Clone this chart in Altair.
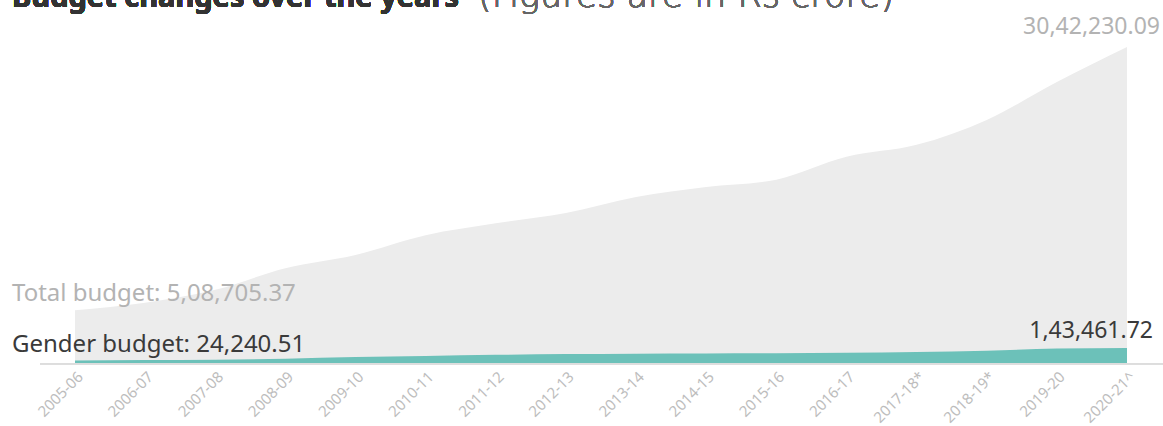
import altair as alt
import pandas as pd

years = ["2005-06", "2006-07", "2007-08", "2008-09", "2009-10", "2010-11", "2011-12",
         "2012-13", "2013-14", "2014-15", "2015-16", "2016-17", "2017-18*", "2018-19*",
         "2019-20", "2020-21^"]
total_budget = [508705.37, 581000, 705000, 912000, 1040000, 1230000, 1345000, 1445000,
                1598000, 1694000, 1765000, 1985000, 2100000, 2340000, 2705000, 3042230.09]
gender_budget = [24240.51, 28700, 31200, 42000, 56900, 67800, 78300, 86000,
                 90000, 92000, 94000, 98000, 106000, 118000, 139000, 143461.72]
start_labels = ["Total budget: 5,08,705.37", "Gender budget: 24,240.51"]
end_labels = ["30,42,230.09", "1,43,461.72"]
title_bold = "Budget changes over the years"
title_light = "(Figures are in Rs crore)"

df = pd.DataFrame({"year": years, "total": total_budget, "gender": gender_budget})

FONT = "Noto Sans"
xenc = alt.X("year:N", sort=years, scale=alt.Scale(type="point", padding=0),
             axis=alt.Axis(title=None, labelAngle=-45, labelColor="#bdbdbd", labelFontSize=15,
                           labelFont=FONT, ticks=False, domain=False, grid=False,
                           labelPadding=6))
yscale = alt.Scale(domain=[0, 3042230.09], nice=False, zero=True)

base = alt.Chart(df)

total_area = base.mark_area(color="#ececec", interpolate="monotone").encode(
    x=xenc, y=alt.Y("total:Q", scale=yscale, axis=None))
gender_area = base.mark_area(color="#6cc1b9", interpolate="monotone").encode(
    x=xenc, y=alt.Y("gender:Q", scale=yscale, axis=None))

baseline = alt.Chart(df).mark_rule(color="#dddddd", strokeWidth=1).encode(
    x=alt.value(-35), x2=alt.value(1088), y=alt.value(317))

first = base.transform_filter(alt.datum.year == years[0])
last = base.transform_filter(alt.datum.year == years[-1])

t_start_total = first.mark_text(align="left", baseline="middle", fontSize=24, font=FONT,
                                color="#b3b3b3", dy=-16).encode(
    x=alt.value(-63), y=alt.Y("total:Q", scale=yscale), text=alt.value(start_labels[0]))
t_start_gender = first.mark_text(align="left", baseline="middle", fontSize=24, font=FONT,
                                 color="#3a3a3a", dy=-15).encode(
    x=alt.value(-63), y=alt.Y("gender:Q", scale=yscale), text=alt.value(start_labels[1]))
t_end_total = last.mark_text(align="right", baseline="middle", fontSize=23, font=FONT,
                             color="#b3b3b3", dy=-20, dx=33).encode(
    x=xenc, y=alt.Y("total:Q", scale=yscale), text=alt.value(end_labels[0]))
t_end_gender = last.mark_text(align="right", baseline="middle", fontSize=23, font=FONT,
                              color="#3a3a3a", dy=-17, dx=26).encode(
    x=xenc, y=alt.Y("gender:Q", scale=yscale), text=alt.value(end_labels[1]))

t_title1 = alt.Chart(df).mark_text(align="left", baseline="alphabetic", fontSize=29,
                                   font=FONT, fontWeight="bold", color="#333333").encode(
    x=alt.value(-63), y=alt.value(-40), text=alt.value(title_bold))
t_title2 = alt.Chart(df).mark_text(align="left", baseline="alphabetic", fontSize=35,
                                   font="DejaVu Sans", fontWeight=200, color="#666666").encode(
    x=alt.value(403), y=alt.value(-40), text=alt.value(title_light))

chart = alt.layer(total_area, gender_area, baseline, t_start_total, t_start_gender,
                  t_end_total, t_end_gender, t_title1, t_title2).properties(
    width=1052, height=316,
    autosize=alt.AutoSizeParams(type="none"),
    padding={"left": 75, "top": 47, "right": 36, "bottom": 63},
    background="white",
).configure_view(stroke=None)

chart.save("out.html", embed_options={"renderer": "svg", "actions": False})
